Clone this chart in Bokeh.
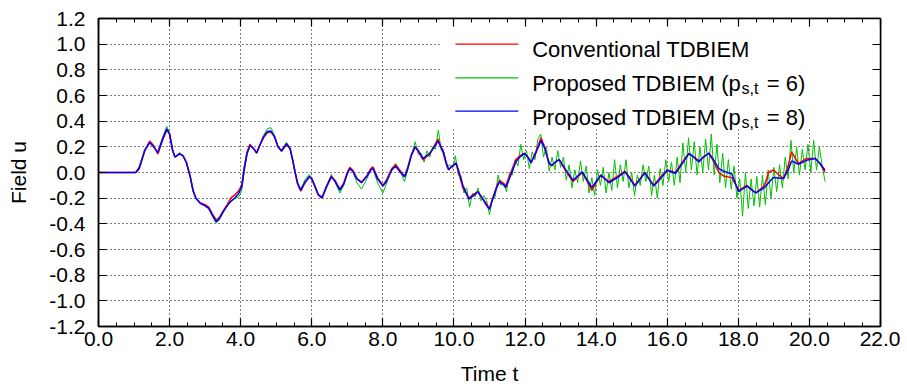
from bokeh.plotting import figure
from bokeh.models import Range1d, LinearAxis, FixedTicker, PrintfTickFormatter, BoxAnnotation, Label
from bokeh.embed import file_html
from bokeh.resources import INLINE

# ---------------- data ----------------
t_p8 = [0.0, 1.0, 1.05, 1.15, 1.3, 1.44, 1.55, 1.67, 1.8, 1.92, 2.0, 2.08, 2.15, 2.28, 2.38, 2.47,
        2.58, 2.66, 2.74, 2.86, 3.0, 3.1, 3.2, 3.31, 3.4, 3.51, 3.62, 3.72, 3.85, 3.95, 4.03, 4.1,
        4.18, 4.26, 4.35, 4.45, 4.55, 4.64, 4.75, 4.85, 4.95, 5.05, 5.15, 5.29, 5.39, 5.46, 5.53,
        5.6, 5.69, 5.8, 5.93, 6.0, 6.09, 6.18, 6.29, 6.4, 6.55, 6.66, 6.79, 6.9, 7.0, 7.07, 7.15,
        7.27, 7.4, 7.55, 7.66, 7.72, 7.85, 8.0, 8.1, 8.25, 8.36, 8.5, 8.61, 8.7, 8.8, 8.91, 9.0,
        9.13, 9.31, 9.45, 9.55, 9.69, 9.78, 9.85, 9.95, 10.06, 10.15, 10.25, 10.42, 10.55, 10.67,
        10.8, 10.9, 11.0, 11.1, 11.2, 11.28, 11.37, 11.46, 11.6, 11.74, 11.85, 11.98, 12.08, 12.17,
        12.3, 12.45, 12.55, 12.68, 12.75, 12.85, 12.96, 13.15, 13.35, 13.61, 13.75, 13.88, 14.0,
        14.13, 14.36, 14.6, 14.81, 14.95, 15.09, 15.37, 15.62, 15.8, 16.0, 16.23, 16.4, 16.61,
        16.75, 16.89, 17.02, 17.17, 17.3, 17.45, 17.6, 17.82, 18.01, 18.24, 18.49, 18.74, 18.85,
        18.99, 19.27, 19.4, 19.5, 19.69, 19.92, 20.16, 20.3, 20.44]
u_p8 = [0.0, 0.0, 0.0, 0.04, 0.17, 0.233, 0.2, 0.155, 0.26, 0.34, 0.3, 0.18, 0.12, 0.147, 0.13, 0.08,
        -0.03, -0.14, -0.2, -0.24, -0.26, -0.28, -0.33, -0.383, -0.36, -0.305, -0.26, -0.225, -0.195,
        -0.16, -0.11, 0.03, 0.15, 0.21, 0.19, 0.155, 0.22, 0.276, 0.32, 0.323, 0.28, 0.2, 0.168, 0.225,
        0.186, 0.1, 0.005, -0.08, -0.137, -0.08, -0.03, -0.05, -0.106, -0.17, -0.194, -0.12, -0.034,
        -0.07, -0.137, -0.09, -0.01, 0.03, 0.01, -0.05, -0.08, -0.03, 0.02, 0.03, -0.05, -0.106, -0.07,
        0.02, 0.049, 0.0, -0.034, 0.03, 0.13, 0.2, 0.17, 0.109, 0.147, 0.2, 0.245, 0.173, 0.08, 0.023,
        0.05, 0.075, 0.0, -0.1, -0.207, -0.18, -0.15, -0.2, -0.25, -0.287, -0.2, -0.12, -0.073, -0.09,
        -0.117, -0.02, 0.082, 0.12, 0.147, 0.12, 0.075, 0.15, 0.25, 0.19, 0.07, 0.057, 0.08, 0.1, 0.018,
        -0.06, 0.005, -0.06, -0.117, -0.07, -0.02, -0.08, -0.04, 0.005, -0.05, -0.106, -0.003, -0.106,
        -0.05, 0.018, -0.008, 0.06, 0.147, 0.12, 0.082, 0.12, 0.152, 0.1, 0.03, 0.01, -0.013, -0.15,
        -0.106, -0.158, -0.117, -0.08, -0.039, -0.047, 0.02, 0.09, 0.064, 0.095, 0.109, 0.07, 0.018]

t_conv = t_p8
u_conv = [0.0, 0.0, 0.0, 0.03, 0.17, 0.245, 0.21, 0.145, 0.25, 0.33, 0.3, 0.18, 0.12, 0.145, 0.13, 0.08,
          -0.03, -0.14, -0.2, -0.235, -0.25, -0.27, -0.32, -0.37, -0.35, -0.3, -0.25, -0.2, -0.17,
          -0.14, -0.1, 0.04, 0.16, 0.22, 0.19, 0.15, 0.22, 0.27, 0.31, 0.315, 0.28, 0.2, 0.165, 0.22,
          0.185, 0.1, 0.0, -0.09, -0.145, -0.085, -0.035, -0.05, -0.11, -0.175, -0.2, -0.12, -0.03,
          -0.065, -0.13, -0.08, 0.0, 0.04, 0.02, -0.045, -0.075, -0.025, 0.03, 0.045, -0.04, -0.1, -0.06,
          0.03, 0.06, 0.01, -0.03, 0.04, 0.14, 0.2, 0.16, 0.1, 0.14, 0.21, 0.26, 0.16, 0.07, 0.02,
          0.05, 0.07, -0.02, -0.12, -0.2, -0.17, -0.15, -0.2, -0.24, -0.28, -0.19, -0.11, -0.06, -0.08,
          -0.1, 0.0, 0.1, 0.13, 0.15, 0.12, 0.08, 0.16, 0.27, 0.2, 0.07, 0.05, 0.08, 0.1, 0.01,
          -0.07, 0.0, -0.07, -0.14, -0.08, -0.02, -0.07, -0.03, 0.01, -0.04, -0.1, 0.0, -0.1,
          -0.04, 0.02, 0.0, 0.07, 0.15, 0.12, 0.09, 0.12, 0.15, 0.09, 0.0, -0.03, -0.04, -0.14,
          -0.1, -0.16, -0.1, 0.0, 0.02, -0.05, 0.05, 0.16, 0.07, 0.11, 0.11, 0.07, 0.0]

t_p6 = [0.0, 1.0, 1.05, 1.15, 1.3, 1.44, 1.55, 1.67, 1.8, 1.92, 2.0, 2.08, 2.15, 2.28, 2.38, 2.47,
        2.58, 2.66, 2.74, 2.86, 3.0, 3.1, 3.2, 3.31, 3.4, 3.51, 3.62, 3.72, 3.85, 3.95, 4.03, 4.1,
        4.18, 4.26, 4.35, 4.45, 4.55, 4.64, 4.75, 4.85, 4.95, 5.05, 5.15, 5.29, 5.39, 5.46, 5.53,
        5.6, 5.69, 5.8, 5.93, 6.0, 6.09, 6.18, 6.29, 6.4, 6.55, 6.66, 6.79, 6.9, 7.0, 7.07, 7.15,
        7.27, 7.4, 7.55, 7.66, 7.72, 7.85, 8.0, 8.1, 8.25, 8.36, 8.5, 8.61, 8.7, 8.8, 8.91,
        9.00, 9.08, 9.16, 9.24, 9.32, 9.40, 9.48, 9.56, 9.64, 9.72, 9.80, 9.88, 9.96, 10.04, 10.12,
        10.20, 10.28, 10.36, 10.44, 10.52, 10.60, 10.68, 10.76, 10.84, 10.92, 11.00, 11.08, 11.16,
        11.24, 11.32, 11.40, 11.48, 11.56, 11.64, 11.72, 11.80, 11.88, 11.96, 12.04, 12.12, 12.20,
        12.28, 12.36, 12.44, 12.52, 12.60, 12.68, 12.76, 12.84, 12.92, 13.00, 13.08, 13.16, 13.24,
        13.32, 13.40, 13.48, 13.56, 13.64, 13.72, 13.80, 13.88, 13.96, 14.04, 14.12, 14.20, 14.28,
        14.36, 14.44, 14.52, 14.60, 14.68, 14.76, 14.84, 14.92, 15.00, 15.08, 15.16, 15.24, 15.32,
        15.40, 15.48, 15.56, 15.64, 15.72, 15.80, 15.88, 15.96, 16.04, 16.12, 16.20, 16.28, 16.36,
        16.44, 16.52, 16.60, 16.68, 16.76, 16.84, 16.92, 17.00, 17.08, 17.16, 17.24, 17.32, 17.40,
        17.48, 17.56, 17.64, 17.72, 17.80, 17.88, 17.96, 18.04, 18.12, 18.20, 18.28, 18.36, 18.44,
        18.52, 18.60, 18.68, 18.76, 18.84, 18.92, 19.00, 19.08, 19.16, 19.24, 19.32, 19.40, 19.48,
        19.56, 19.64, 19.72, 19.80, 19.88, 19.96, 20.04, 20.12, 20.20, 20.28, 20.36, 20.44]
u_p6 = [0.0, 0.0, 0.0, 0.05, 0.18, 0.235, 0.2, 0.16, 0.27, 0.36, 0.31, 0.17, 0.12, 0.155, 0.13, 0.08,
        -0.04, -0.15, -0.2, -0.24, -0.26, -0.28, -0.34, -0.395, -0.37, -0.31, -0.26, -0.23, -0.2,
        -0.19, -0.14, 0.0, 0.14, 0.21, 0.19, 0.15, 0.22, 0.29, 0.34, 0.35, 0.29, 0.2, 0.175, 0.235,
        0.19, 0.1, 0.0, -0.09, -0.13, -0.06, -0.015, -0.04, -0.11, -0.18, -0.2, -0.11, -0.015,
        -0.08, -0.16, -0.1, 0.0, 0.04, 0.01, -0.08, -0.13, -0.05, 0.02, 0.03, -0.08, -0.16, -0.09,
        0.03, 0.07, 0.0, -0.07, 0.02, 0.13, 0.24,
        0.14, 0.15, 0.08, 0.17, 0.12, 0.20, 0.18, 0.33, 0.17, 0.16, 0.04, 0.06, 0.03, 0.13, -0.02,
        -0.03, -0.16, -0.12, -0.27, -0.16, -0.19, -0.12, -0.22, -0.18, -0.22, -0.33, -0.21, -0.19,
        -0.02, -0.10, -0.08, -0.15, 0.0, -0.02, 0.10, 0.05, 0.22, 0.10, 0.17, 0.03, 0.16,
        0.10, 0.26, 0.30, 0.12, 0.20, 0.01, 0.12, 0.02, 0.17, 0.04, 0.12, -0.06, 0.06,
        -0.12, 0.02, -0.08, 0.09, -0.07, 0.05, -0.16, -0.04, -0.18, 0.02, -0.10, 0.04, -0.16,
        0.0, -0.14, 0.10, -0.12, 0.06, -0.07, 0.10, -0.12, 0.0, -0.18, -0.02, -0.10, 0.06,
        -0.07, 0.05, -0.18, -0.02, -0.20, 0.03, -0.10, 0.10, -0.07, 0.08, -0.10, 0.12, -0.08,
        0.23, 0.0, 0.27, 0.02, 0.24, -0.02, 0.20, 0.0, 0.26, 0.02, 0.30, -0.02, 0.22,
        -0.08, 0.15, -0.12, 0.10, -0.13, 0.05, -0.20, -0.05, -0.34, 0.0, -0.28, -0.05, -0.26,
        -0.03, -0.27, -0.02, -0.25, 0.02, -0.20, 0.04, -0.15, 0.06, -0.12, 0.12, -0.05, 0.25,
        0.0, 0.20, -0.02, 0.18, 0.02, 0.22, 0.0, 0.25, 0.02, 0.20, 0.05, -0.07]

x_ticks = [0.0, 2.0, 4.0, 6.0, 8.0, 10.0, 12.0, 14.0, 16.0, 18.0, 20.0, 22.0]
y_ticks = [-1.2, -1.0, -0.8, -0.6, -0.4, -0.2, 0.0, 0.2, 0.4, 0.6, 0.8, 1.0, 1.2]
x_minor = [i * 0.5 for i in range(45)]
legend_labels = ["Conventional TDBIEM", "Proposed TDBIEM (p", "Proposed TDBIEM (p"]
legend_subs = ["", "s,t", "s,t"]
legend_tails = ["", " = 6)", " = 8)"]
colors = ["#ff0000", "#00c000", "#0000ff"]

FONT = "Liberation Sans"

p = figure(width=900, height=388, output_backend="svg", toolbar_location=None,
           x_range=Range1d(0, 22), y_range=Range1d(-1.2, 1.2),
           x_axis_label="Time t", y_axis_label="Field u",
           min_border_left=98, min_border_right=20, min_border_top=18, min_border_bottom=62)
p.background_fill_color = "white"
p.border_fill_color = "white"
p.outline_line_color = "black"
p.outline_line_width = 1.5

xt = FixedTicker(ticks=x_ticks, minor_ticks=x_minor)
yt = FixedTicker(ticks=y_ticks, minor_ticks=[])
p.xaxis.ticker = xt
p.yaxis.ticker = yt
p.xgrid.ticker = FixedTicker(ticks=x_ticks)
p.ygrid.ticker = FixedTicker(ticks=y_ticks)
for g in (p.xgrid, p.ygrid):
    g.grid_line_color = "black"
    g.grid_line_dash = "1 3"
    g.grid_line_width = 1

for ax in (p.xaxis, p.yaxis):
    ax.formatter = PrintfTickFormatter(format="%.1f")
    ax.major_label_text_font = FONT
    ax.major_label_text_font_size = "21px"
    ax.major_label_text_color = "black"
    ax.axis_label_text_font = FONT
    ax.axis_label_text_font_size = "21px"
    ax.axis_label_text_font_style = "normal"
    ax.axis_label_text_color = "black"
    ax.major_tick_in = 8
    ax.major_tick_out = 0
    ax.minor_tick_in = 4
    ax.minor_tick_out = 0
    ax.axis_line_color = "black"
    ax.axis_line_width = 1.5
    ax.major_tick_line_width = 1.2
p.xaxis.major_label_standoff = 5
p.xaxis.axis_label_standoff = 13
p.yaxis.major_label_standoff = 13
p.yaxis.axis_label_standoff = 16

top = LinearAxis(ticker=xt, major_label_text_font_size="1px", major_label_text_color=None,
                 major_tick_in=8, major_tick_out=0, minor_tick_in=4, minor_tick_out=0,
                 major_label_standoff=0, axis_line_width=1.5, major_tick_line_width=1.2)
right = LinearAxis(ticker=yt, major_label_text_font_size="1px", major_label_text_color=None,
                   major_tick_in=8, major_tick_out=0, minor_tick_in=0, minor_tick_out=0,
                   major_label_standoff=0, axis_line_width=1.5, major_tick_line_width=1.2)
p.add_layout(top, "above")
p.add_layout(right, "right")

# opaque key box
box = BoxAnnotation(left=9.6, right=22, bottom=0.336, top=1.2, fill_color="white", fill_alpha=1.0,
                    line_color=None, level="underlay")
p.add_layout(box)

p.line(t_p6, u_p6, line_color=colors[1], line_width=1)
p.line(t_conv, u_conv, line_color=colors[0], line_width=1.5)
p.line(t_p8, u_p8, line_color=colors[2], line_width=1.5)

# legend (custom, to allow the subscript)
row_y = [1.0, 0.738, 0.478]
base_y = [0.955, 0.691, 0.432]
p.segment(x0=[10.04] * 3, x1=[11.81] * 3, y0=row_y, y1=row_y, line_color=colors, line_width=1.2)
for i in range(3):
    p.add_layout(Label(x=12.2, y=base_y[i], text=legend_labels[i], text_font=FONT,
                       text_font_size="22px", text_baseline="alphabetic", text_color="black"))
    if legend_subs[i]:
        p.add_layout(Label(x=18.09, y=base_y[i] - 0.039, text=legend_subs[i], text_font=FONT,
                           text_font_size="16px", text_baseline="alphabetic", text_color="black"))
        p.add_layout(Label(x=18.8, y=base_y[i], text=legend_tails[i], text_font=FONT,
                           text_font_size="22px", text_baseline="alphabetic", text_color="black"))

open("out.html", "w").write(file_html(p, INLINE))
